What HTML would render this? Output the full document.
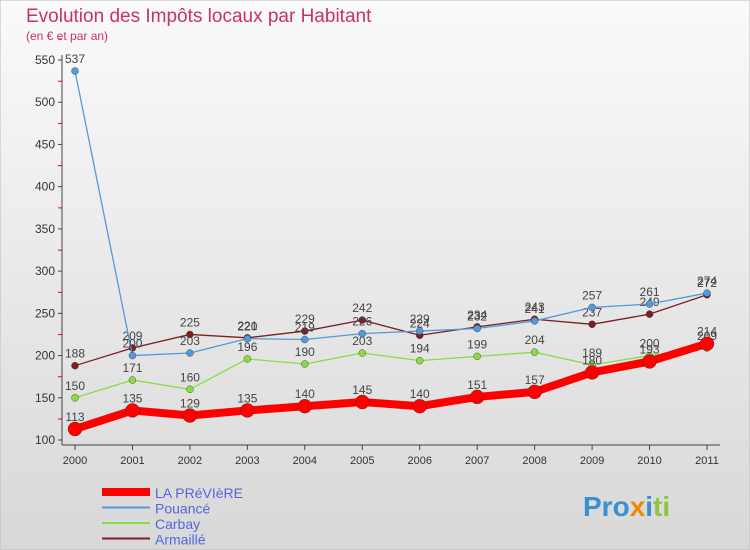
<!DOCTYPE html>
<html><head><meta charset="utf-8"><style>
body{margin:0;width:750px;height:550px;overflow:hidden;font-family:"Liberation Sans",sans-serif}
#c{position:absolute;left:0;top:0}
</style></head><body>
<svg id="c" width="750" height="550">
<defs><linearGradient id="bg" x1="0" y1="0" x2="0" y2="1"><stop offset="0" stop-color="#fafafa"/><stop offset="1" stop-color="#d8d8d8"/></linearGradient></defs>
<rect width="750" height="550" fill="url(#bg)" stroke="#bbb"/>
<text x="26" y="22" font-size="19" fill="#c8306e">Evolution des Impôts locaux par Habitant</text>
<text x="26" y="40" font-size="12" fill="#c8306e">(en € et par an)</text>
<g id="axes"></g><g id="series"></g><g id="legend"></g>
<text x="583" y="516" font-size="28" font-weight="bold"><tspan fill="#3a8fd0">Pro</tspan><tspan fill="#f08a00">x</tspan><tspan fill="#3a8fd0">i</tspan><tspan fill="#8cc63f">ti</tspan></text>
</svg>
<script>
const years=[2000,2001,2002,2003,2004,2005,2006,2007,2008,2009,2010,2011];
const yTicks=[100,150,200,250,300,350,400,450,500,550];
const laPreviere=[113,135,129,135,140,145,140,151,157,180,193,214];
const pouance=[537,200,203,220,219,226,229,232,241,257,261,274];
const carbay=[150,171,160,196,190,203,194,199,204,189,200,209];
const armaille=[188,209,225,221,229,242,224,234,243,237,249,272];
const NS="http://www.w3.org/2000/svg";
const xS=i=>75+i*(707-75)/11;
const yS=v=>440-(v-100)*380/450;
function mk(t,a,p){const e=document.createElementNS(NS,t);for(const k in a)e.setAttribute(k,a[k]);p.appendChild(e);return e;}
const ax=document.getElementById('axes');
const l1=mk('line',{x1:62,y1:55,x2:62,y2:445,stroke:'#444'},ax);


const l2=mk('line',{x1:62,y1:445,x2:720,y2:445,stroke:'#444'},ax);


yTicks.forEach(v=>{
 const y=yS(v);
 mk('line',{x1:58,y1:y,x2:62,y2:y,stroke:'#444'},ax);
 mk('line',{x1:58,y1:y-21,x2:62,y2:y-21,stroke:'#e00'},ax);
 const t=mk('text',{x:55,y:y+4,'font-size':12,'text-anchor':'end',fill:'#333'},ax);
 t.textContent=v;
 
 
});
years.forEach((yr,i)=>{
 const x=xS(i);
 mk('line',{x1:x,y1:445,x2:x,y2:450,stroke:'#444'},ax);
 const t=mk('text',{x:x,y:464,'font-size':11,'text-anchor':'middle',fill:'#333'},ax);
 t.textContent=yr;
 
 
});
const sg=document.getElementById('series');
const defs=[
 {name:'Armaillé',d:armaille,c:'#7a1f22',w:1.3,r:3.5,key:'armaille'},
 {name:'Carbay',d:carbay,c:'#88dd44',w:1.3,r:3.5,key:'carbay'},
 {name:'Pouancé',d:pouance,c:'#5599dd',w:1.3,r:3.5,key:'pouance'},
 {name:'LA PRéVIèRE',d:laPreviere,c:'#ff0000',w:8,r:7,key:'la-previere'}
];
defs.forEach(s=>{
 const g=mk('g',{},sg);
 
 
 const p=mk('polyline',{points:s.d.map((v,i)=>xS(i)+','+yS(v)).join(' '),fill:'none',stroke:s.c,'stroke-width':s.w,'stroke-linejoin':'round'},g);
 
 
 s.d.forEach((v,i)=>{
  const c=mk('circle',{cx:xS(i),cy:yS(v),r:s.r,fill:s.c,stroke:'#333','stroke-width':0.4},g);
  
  
  const t=mk('text',{x:xS(i),y:yS(v)-8,'font-size':12,'text-anchor':'middle',fill:'#444'},g);
  t.textContent=v;
  
  
 });
});
const lg=document.getElementById('legend');
[defs[3],defs[2],defs[1],defs[0]].forEach((s,i)=>{
 const y=492+i*15.5;
 const g=mk('g',{},lg);
 
 
 mk('line',{x1:102,y1:y,x2:150,y2:y,stroke:s.c,'stroke-width':s.key==='la-previere'?8:2},g);
 const t=mk('text',{x:155,y:y+6,'font-size':14,fill:'#5566dd'},g);
 t.textContent=s.name;
 
 
});
</script>
</body></html>
